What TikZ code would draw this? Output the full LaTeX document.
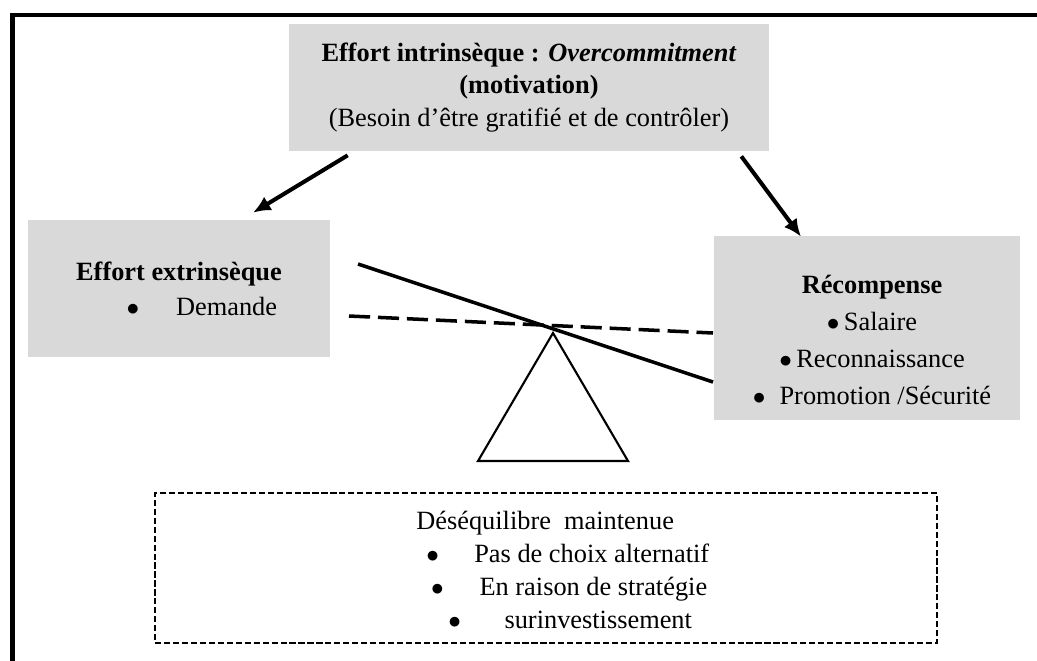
\documentclass[tikz,border=0pt]{standalone}
\usepackage{fontspec}
\setmainfont{Liberation Serif}
\usetikzlibrary{arrows.meta, calc, positioning}
\definecolor{boxgrey}{HTML}{D9D9D9}
\newcommand{\puce}{$\bullet$}
\begin{document}
\begin{tikzpicture}[x=0.02cm, y=-0.02cm, >={Latex[length=10pt,width=9pt]}, font=\fontsize{15}{18.4}\selectfont]
	% Define styles
	\tikzstyle{greybox} = [fill=boxgrey, rectangle, inner sep=0pt, align=center]
	\tikzstyle{dashbox} = [draw, rectangle, line width=0.7pt, dash pattern=on 3.5pt off 1.6pt, inner sep=0pt]
	\tikzstyle{pointer} = [draw, ->, line width=2.3pt]
	\tikzstyle{beam} = [line width=2pt]

	\useasboundingbox (0,0) rectangle (1037,660);

	% Outer frame
	\draw [line width=2.55pt] (12.5,665) -- (12.5,15) -- (1042,15);

	% Intrinsic effort
	\node [greybox, minimum width=9.6cm, minimum height=2.54cm] (intrinseque) at (529,87.5) {\textbf{Effort intrinsèque : \textit{Overcommitment}}\\\textbf{(motivation)}\\(Besoin d’être gratifié et de contrôler)};

	% Extrinsic effort
	\node [greybox, minimum width=6.04cm, minimum height=2.74cm, font=\fontsize{15}{19.8}\selectfont] (extrinseque) at (179,288.5) {\textbf{Effort extrinsèque}\\\hspace*{26pt}\puce\hspace{21pt}Demande};

	% Reward
	\node [greybox, minimum width=6.12cm, minimum height=3.68cm] (recompense) at (867,328) {};
	\node [align=center, inner sep=0pt, font=\fontsize{15}{21}\selectfont] (recompensetxt) at (872,340) {\textbf{Récompense}\\\puce\,Salaire\\\puce\,Reconnaissance\\\puce\hspace{8pt}Promotion /Sécurité};

	% Arrows
	\draw [pointer] ($(intrinseque.south west)+(59,4)$) -- ($(extrinseque.north)+(74,-7)$);
	\draw [pointer] ($(intrinseque.south east)+(-28,5)$) -- ($(recompense.north)+(-66,1)$);

	% Seesaw
	\draw [beam] (358,264) -- (713,382);
	\draw [beam, dash pattern=on 12pt off 4.5pt] (349,316) -- (713,333);
	\draw [line width=1.2pt] (553,333) -- (478,461) -- (628,461) -- cycle;

	% Imbalance
	\node [dashbox, minimum width=15.64cm, minimum height=3cm] (desequilibre) at (546,568) {};
	\node [align=left, inner sep=0pt, anchor=north west, font=\fontsize{15}{18.7}\selectfont] (desequilibretxt) at (416,511) {Déséquilibre\ \ maintenue\\\hspace*{5.7pt}\puce\hspace{20.1pt}Pas de choix alternatif\\\hspace*{8.4pt}\puce\hspace{20.4pt}En raison de stratégie\\\hspace*{18.2pt}\puce\hspace{24.8pt}surinvestissement};

\end{tikzpicture}
\end{document}
